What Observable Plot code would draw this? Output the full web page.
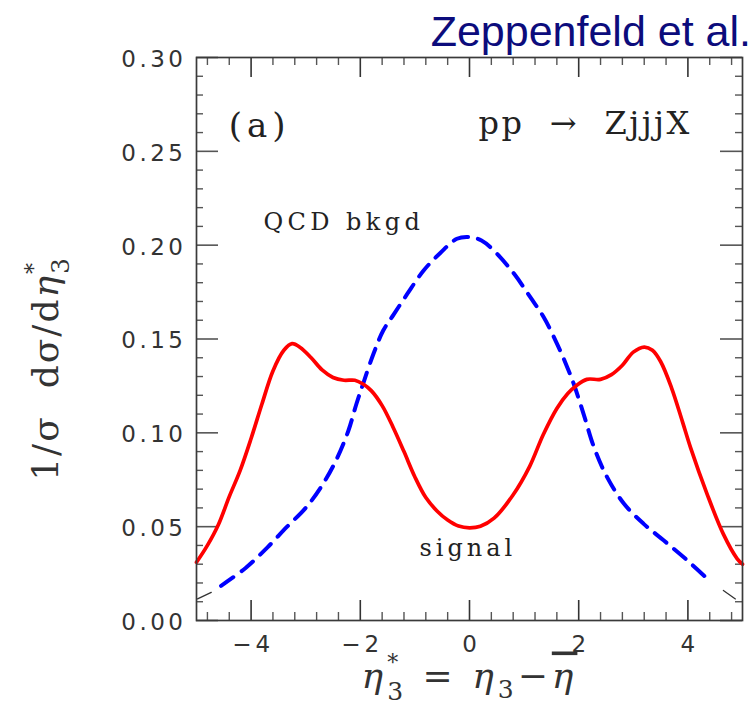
<!DOCTYPE html>
<html><head><meta charset="utf-8">
<script src="https://cdn.jsdelivr.net/npm/d3@7"></script>
<script src="https://cdn.jsdelivr.net/npm/@observablehq/plot@0.6"></script>
<style>
body{margin:0;background:#fff;}
#wrap{position:relative;width:755px;height:717px;overflow:hidden;}
#title{position:absolute;right:4px;top:10px;font-family:"Liberation Sans",Arial,sans-serif;font-size:43px;color:#0c0c7c;line-height:1;white-space:nowrap;}
</style></head><body>
<div id="wrap"><div id="chart"></div><div id="title">Zeppenfeld et al.</div></div>
<script>
// ---- data ----
const signalX = [-5.0,-4.8,-4.6,-4.4,-4.2,-4.0,-3.8,-3.6,-3.4,-3.25,-3.1,-2.9,-2.7,-2.5,-2.3,-2.1,-1.95,-1.8,-1.6,-1.4,-1.2,-1.0,-0.8,-0.6,-0.4,-0.2,0.0,0.2,0.45,0.8,1.1,1.35,1.6,1.8,1.95,2.15,2.4,2.6,2.8,3.0,3.2,3.35,3.5,3.7,3.9,4.05,4.35,4.65,4.9,5.0];
const signalY = [0.031,0.040,0.051,0.066,0.080,0.097,0.1155,0.133,0.144,0.1475,0.1455,0.140,0.1335,0.1295,0.128,0.128,0.126,0.1225,0.1145,0.103,0.090,0.0765,0.0655,0.0585,0.0535,0.0503,0.0494,0.0502,0.0545,0.067,0.082,0.099,0.113,0.121,0.125,0.1285,0.1285,0.131,0.136,0.143,0.1457,0.144,0.138,0.124,0.106,0.092,0.0675,0.046,0.033,0.030];
const qcdX = [-4.55,-4.1,-3.7,-3.35,-3.0,-2.7,-2.45,-2.22,-2.07,-1.95,-1.76,-1.58,-1.39,-1.14,-0.84,-0.53,-0.23,0.0,0.22,0.45,0.81,1.12,1.36,1.61,1.79,1.91,2.09,2.28,2.52,2.83,3.19,3.56,3.99,4.42];
const qcdY = [0.0185,0.028,0.039,0.0497,0.060,0.072,0.085,0.101,0.1155,0.126,0.142,0.1545,0.163,0.174,0.1865,0.196,0.2034,0.2043,0.2025,0.197,0.185,0.172,0.1616,0.147,0.135,0.126,0.110,0.0923,0.0764,0.0622,0.0515,0.0426,0.032,0.0205];
const qcdTailLeftX = [-4.98,-4.73];
const qcdTailLeftY = [0.0115,0.015];
const qcdTailRightX = [4.65,4.87];
const qcdTailRightY = [0.016,0.0115];
const xMajorTicks = [-4,-2,0,2,4];
const xTickLabels = ["−4","−2","0","2","4"];
const xMinorTicks = [-4.8,-4.4,-3.6,-3.2,-2.8,-2.4,-1.6,-1.2,-0.8,-0.4,0.4,0.8,1.2,1.6,2.4,2.8,3.2,3.6,4.4,4.8];
const yMajorTicks = [0,0.05,0.10,0.15,0.20,0.25,0.30];
const yTickLabels = ["0.00","0.05","0.10","0.15","0.20","0.25","0.30"];
const yMinorTicks = [0.01,0.02,0.03,0.04,0.06,0.07,0.08,0.09,0.11,0.12,0.13,0.14,0.16,0.17,0.18,0.19,0.21,0.22,0.23,0.24,0.26,0.27,0.28,0.29];
const panelLabel = "(a)";
const processLabel = "pp  →  ZjjjX";
const qcdLabel = "QCD bkgd";
const signalLabel = "signal";
const yAxisLabel = "YLABEL";
const xAxisLabel = "XLABEL";

// ---- build ----
const W = 755, H = 717, mL = 196, mR = 13, mT = 57, mB = 97;
const fw = W - mL - mR, fh = H - mT - mB;
const signal = signalX.map((x, i) => ({x, y: signalY[i]}));
const qcd = qcdX.map((x, i) => ({x, y: qcdY[i]}));
const tailL = qcdTailLeftX.map((x, i) => ({x, y: qcdTailLeftY[i]}));
const tailR = qcdTailRightX.map((x, i) => ({x, y: qcdTailRightY[i]}));
const tickStroke = "#555";
const serif = "DejaVu Serif";

const plot = Plot.plot({
  width: W, height: H,
  marginLeft: mL, marginRight: mR, marginTop: mT, marginBottom: mB,
  x: {domain: [-5, 5], axis: null},
  y: {domain: [0, 0.30], axis: null},
  style: {background: "white", overflow: "visible"},
  marks: [
    Plot.tickX(xMinorTicks, {x: d => d, insetTop: fh - 8, stroke: tickStroke, strokeWidth: 1.4}),
    Plot.tickX(xMinorTicks, {x: d => d, insetBottom: fh - 8, stroke: tickStroke, strokeWidth: 1.4}),
    Plot.tickX(xMajorTicks, {x: d => d, insetTop: fh - 20, stroke: "#333", strokeWidth: 1.6}),
    Plot.tickX(xMajorTicks, {x: d => d, insetBottom: fh - 20, stroke: "#333", strokeWidth: 1.6}),
    Plot.tickY(yMinorTicks, {y: d => d, insetRight: fw - 7, stroke: tickStroke, strokeWidth: 1.4}),
    Plot.tickY(yMinorTicks, {y: d => d, insetLeft: fw - 7, stroke: tickStroke, strokeWidth: 1.4}),
    Plot.tickY(yMajorTicks, {y: d => d, insetRight: fw - 22, stroke: tickStroke, strokeWidth: 1.6}),
    Plot.tickY(yMajorTicks, {y: d => d, insetLeft: fw - 22, stroke: tickStroke, strokeWidth: 1.6}),
    Plot.line(tailL, {x: "x", y: "y", stroke: "#333", strokeWidth: 1.3}),
    Plot.line(tailR, {x: "x", y: "y", stroke: "#333", strokeWidth: 1.3}),
    Plot.line(qcd, {x: "x", y: "y", stroke: "#0000ff", strokeWidth: 4, strokeDasharray: "15,10", curve: "catmull-rom"}),
    Plot.line(signal, {x: "x", y: "y", stroke: "#ff0000", strokeWidth: 3.7, curve: "catmull-rom"}),
    Plot.frame({stroke: "#3a3a3a", strokeWidth: 1.7}),
    Plot.text(yMajorTicks, {y: d => d, text: (d, i) => yTickLabels[i], frameAnchor: "left", textAnchor: "end", dx: -10, dy: 2, fontSize: 23, fontFamily: "DejaVu Sans", fill: "#333"}),
    Plot.text(xMajorTicks, {x: d => d, text: (d, i) => xTickLabels[i], frameAnchor: "bottom", dx: 2, dy: 31, fontSize: 23, fontFamily: "DejaVu Sans", fill: "#333"}),
    Plot.text([panelLabel], {x: -4.41, y: 0.2574, text: d => d, textAnchor: "start", lineAnchor: "bottom", fontSize: 34, fontFamily: serif, fill: "#222"}),
    Plot.text([processLabel], {x: 0.165, y: 0.2595, text: d => d, textAnchor: "start", lineAnchor: "bottom", fontSize: 32, fontFamily: serif, fill: "#222"}),
    Plot.text([qcdLabel], {x: -3.773, y: 0.2083, text: d => d, textAnchor: "start", lineAnchor: "bottom", fontSize: 24, fontFamily: serif, fill: "#222"}),
    Plot.text([signalLabel], {x: -0.916, y: 0.0346, text: d => d, textAnchor: "start", lineAnchor: "bottom", fontSize: 24, fontFamily: serif, fill: "#222"}),
    Plot.text([yAxisLabel], {x: -5, y: 0.1343, dx: -150, rotate: -90, text: d => d, fontSize: 36, fontFamily: serif, fill: "#333"}),
    Plot.text([xAxisLabel], {frameAnchor: "bottom", dy: 67, text: d => d, fontSize: 36, fontFamily: serif, fill: "#333"})
  ]
});
document.getElementById("chart").appendChild(plot);

// ---- typographic touches (letter spacing, sub/superscripts) ----
const NS = "http://www.w3.org/2000/svg";
function richen(node, parts) {
  node.textContent = "";
  for (const p of parts) {
    const ts = document.createElementNS(NS, "tspan");
    ts.textContent = p.t;
    for (const k in (p.a || {})) ts.setAttribute(k, p.a[k]);
    node.appendChild(ts);
  }
}
const spacing = {"(a)": 5, "pp  →  ZjjjX": 2.5, "QCD bkgd": 4.4, "signal": 4};
d3.select(plot).selectAll("text").each(function () {
  const t = this.textContent;
  if (spacing[t] !== undefined) this.style.letterSpacing = spacing[t] + "px";
  else if (yTickLabels.includes(t)) this.style.letterSpacing = "3.5px";
  else if (xTickLabels.includes(t)) this.style.letterSpacing = "4px";
  else if (t === "YLABEL") {
    this.style.letterSpacing = "2px";
    richen(this, [
      {t: "1/σ\u00a0\u00a0dσ/d"},
      {t: "η", a: {"font-style": "italic"}},
      {t: "*", a: {"font-size": "22px", dy: "-17px"}},
      {t: "3", a: {"font-size": "25px", dx: "-13px", dy: "28px"}}
    ]);
  } else if (t === "XLABEL") {
    this.style.letterSpacing = "4px";
    richen(this, [
      {t: "η", a: {"font-style": "italic"}},
      {t: "*", a: {"font-size": "22px", dy: "-18px"}},
      {t: "3", a: {"font-size": "25px", dx: "-15px", dy: "30px"}},
      {t: "\u00a0=\u00a0", a: {dy: "-12px"}},
      {t: "η", a: {"font-style": "italic"}},
      {t: "3", a: {"font-size": "25px", dy: "10px"}},
      {t: "−", a: {dy: "-10px"}},
      {t: "η", a: {"font-style": "italic", "text-decoration": "overline"}}
    ]);
  }
});
</script>
</body></html>
